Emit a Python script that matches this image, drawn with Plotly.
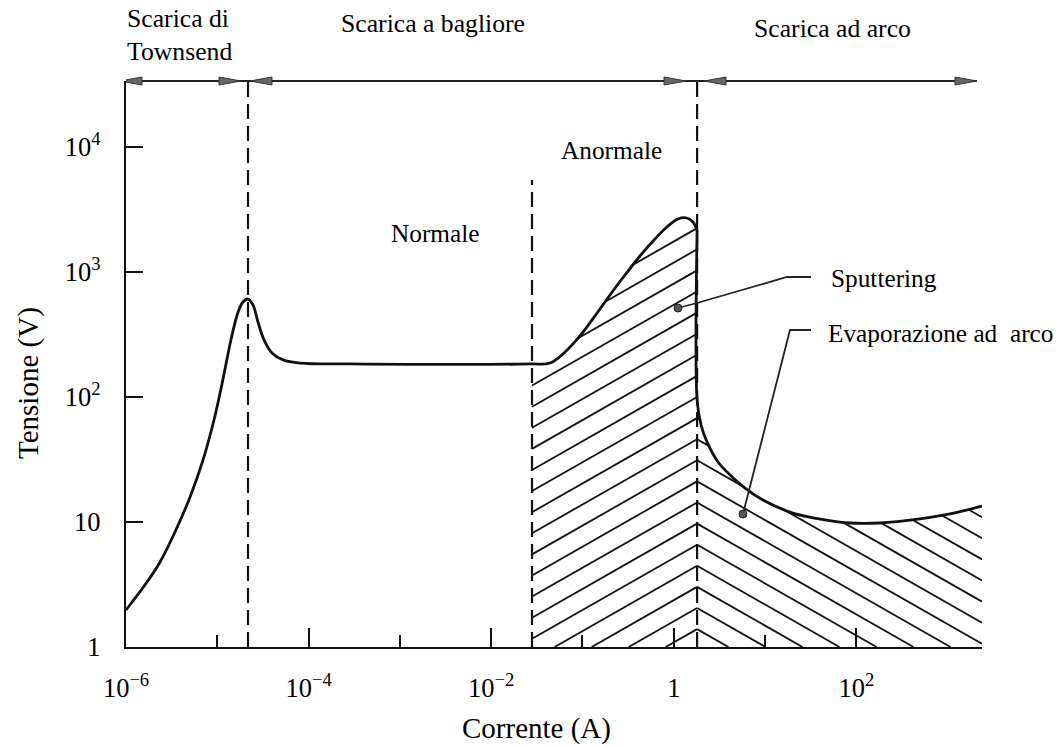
import numpy as np
import plotly.graph_objects as go

# ---------------- data ----------------
# Curva tensione-corrente della scarica nei gas
corrente_townsend = [1.0e-6, 1.61e-6, 2.36e-6, 3.44e-6, 5.02e-6, 6.97e-6, 9.20e-6, 1.15e-5,
                     1.41e-5, 1.69e-5, 1.91e-5, 2.17e-5, 2.46e-5, 2.79e-5, 3.25e-5, 3.97e-5,
                     5.25e-5, 8.05e-5, 2.84e-4, 0.0266]
tensione_townsend = [1.98, 3.13, 4.79, 8.32, 15.8, 31.3, 65.5, 137,
                     286, 479, 575, 608, 545, 398, 286, 225,
                     198, 187, 184, 184]

corrente_anormale = [0.0266, 0.0441, 0.0643, 0.0939, 0.137, 0.200, 0.292, 0.426,
                     0.622, 0.863, 1.11, 1.39, 1.62, 1.80]
tensione_anormale = [184, 187, 229, 308, 445, 655, 946, 1343,
                     1837, 2333, 2655, 2704, 2512, 2168]

corrente_arco = [1.80, 1.80, 1.99, 2.31, 3.05, 4.13, 6.03, 9.49, 18.7, 33.5,
                 85.1, 181, 497, 1059, 2377]
tensione_arco = [2168, 94.6, 59.7, 43.7, 30.2, 23.8, 18.7, 15.0, 12.0, 10.8,
                 9.82, 9.82, 10.6, 11.6, 13.4]

# region boundaries (A)
confine_townsend = 2.17e-5
confine_normale = 0.028
confine_arco = 1.80

x_tickvals = [1e-6, 1e-4, 1e-2, 1, 1e2]
x_ticktext = ["10<sup>\u22126</sup>", "10<sup>\u22124</sup>", "10<sup>\u22122</sup>", "1", "10<sup>2</sup>"]
x_minor = [1e-5, 1e-3, 1e-1, 1e1]
y_tickvals = [1, 10, 100, 1000, 10000]
y_ticktext = ["1", "10", "10<sup>2</sup>", "10<sup>3</sup>", "10<sup>4</sup>"]

# ---------------- layout constants ----------------
FONT = "Liberation Serif, Times New Roman, serif"
W, H = 1063, 747
M = dict(l=126, r=81, t=81, b=100)
X_RANGE = [-6.0, 3.376]
Y_RANGE = [0.0, 4.528]
plot_w = W - M["l"] - M["r"]
plot_h = H - M["t"] - M["b"]
pxdx = plot_w / (X_RANGE[1] - X_RANGE[0])
pxdy = plot_h / (Y_RANGE[1] - Y_RANGE[0])
slope = 0.57 * pxdx / pxdy          # hatch slope in log units
spacing = 21.1 / pxdy               # vertical hatch spacing in log units
lx_ref = np.log10(confine_arco)
c_ref = 2.0


def px_paper(px):
    return (px - M["l"]) / plot_w


def py_paper(py):
    return (H - M["b"] - py) / plot_h


def hatch(xp, yp, lx_lo, lx_hi, sign):
    lxp = np.log10(xp)
    lyp = np.log10(yp)
    grid = np.linspace(lx_lo, lx_hi, 2000)
    upper = np.interp(grid, lxp, lyp)
    xs, ys = [], []
    for k in range(-25, 30):
        c = c_ref + k * spacing
        line = c + sign * slope * (grid - lx_ref)
        valid = (line >= 0) & (line <= upper)
        idx = np.flatnonzero(valid)
        if idx.size < 2:
            continue
        runs = np.split(idx, np.where(np.diff(idx) > 1)[0] + 1)
        for run in runs:
            if len(run) < 2:
                continue
            a, b = run[0], run[-1]
            xs += [10 ** grid[a], 10 ** grid[b], None]
            ys += [10 ** line[a], 10 ** line[b], None]
    return xs, ys


hx1, hy1 = hatch(corrente_anormale, tensione_anormale,
                 np.log10(confine_normale), np.log10(confine_arco), +1)
hx2, hy2 = hatch(corrente_arco[1:], tensione_arco[1:],
                 np.log10(confine_arco), X_RANGE[1], -1)

fig = go.Figure()

# hatching
fig.add_trace(go.Scatter(x=hx1 + hx2, y=hy1 + hy2, mode="lines",
                         line=dict(color="#111", width=1.8),
                         hoverinfo="skip", showlegend=False, cliponaxis=False))

# dashed boundaries
ytop = 10 ** Y_RANGE[1]
for xv, ys in [(confine_townsend, (1, ytop)),
               (confine_normale, (1, 10 ** 3.736)),
               (confine_arco, (1, ytop))]:
    fig.add_trace(go.Scatter(x=[xv, xv], y=list(ys), mode="lines",
                             line=dict(color="#111", width=2.2, dash="15px,7px"),
                             hoverinfo="skip", showlegend=False, cliponaxis=False))

# main curve (glow part, then arc part)
cx1 = corrente_townsend + corrente_anormale[1:]
cy1 = tensione_townsend + tensione_anormale[1:]
fig.add_trace(go.Scatter(x=cx1, y=cy1, mode="lines",
                         line=dict(color="#111", width=2.8, shape="spline", smoothing=1.0),
                         hoverinfo="skip", showlegend=False, cliponaxis=False))
fig.add_trace(go.Scatter(x=corrente_arco, y=tensione_arco, mode="lines",
                         line=dict(color="#111", width=2.8, shape="spline", smoothing=0.9),
                         hoverinfo="skip", showlegend=False, cliponaxis=False))

# leader lines for labels
lead1_x = [10 ** 0.046, 10 ** 0.254, 10 ** 1.240, 10 ** 1.503]
lead1_y = [10 ** 2.712, 10 ** 2.752, 10 ** 2.960, 10 ** 2.960]
lead2_x = [10 ** 0.758, 10 ** 1.273, 10 ** 1.503]
lead2_y = [10 ** 1.064, 10 ** 2.536, 10 ** 2.536]
fig.add_trace(go.Scatter(x=lead1_x + [None] + lead2_x, y=lead1_y + [None] + lead2_y,
                         mode="lines", line=dict(color="#222", width=1.8),
                         hoverinfo="skip", showlegend=False))
fig.add_trace(go.Scatter(x=[lead1_x[0], lead2_x[0]], y=[lead1_y[0], lead2_y[0]],
                         mode="markers", marker=dict(size=8, color="#555",
                                                     line=dict(color="#222", width=1)),
                         hoverinfo="skip", showlegend=False))

# top double-arrow line
shapes = [dict(type="line", xref="x", yref="paper", x0=10 ** -6.066, x1=10 ** 3.321,
               y0=1, y1=1, line=dict(color="#222", width=2))]
right_path = "M0,0 L-22,4 L-22,-4 Z"
left_path = "M0,0 L22,4 L22,-4 Z"
for lx, p in [(-6.066, left_path), (-4.74, right_path), (-4.642, left_path),
              (0.134, right_path), (0.331, left_path), (3.321, right_path)]:
    shapes.append(dict(type="path", xref="x", yref="paper", xsizemode="pixel",
                       ysizemode="pixel", xanchor=10 ** lx, yanchor=1, path=p,
                       fillcolor="#666", line=dict(color="#333", width=1)))

tf = dict(family=FONT, size=25.3, color="black")
tf_top = dict(family=FONT, size=25.7, color="black")
title_font = dict(family=FONT, size=29, color="black")
annotations = [
    dict(text="Scarica di<br>Townsend", x=px_paper(125), y=1.081, xref="paper", yref="paper",
         xanchor="left", yanchor="middle", align="left", showarrow=False, font=tf_top),
    dict(text="Scarica a bagliore", x=px_paper(433), y=1.101, xref="paper", yref="paper",
         xanchor="center", yanchor="middle", showarrow=False, font=tf_top),
    dict(text="Scarica ad arco", x=px_paper(832), y=1.092, xref="paper", yref="paper",
         xanchor="center", yanchor="middle", showarrow=False, font=tf_top),
    dict(text="Anormale", x=-0.677, y=3.976, xref="x", yref="y",
         xanchor="center", yanchor="middle", showarrow=False, font=tf),
    dict(text="Normale", x=-2.605, y=3.312, xref="x", yref="y",
         xanchor="center", yanchor="middle", showarrow=False, font=tf),
    dict(text="Sputtering", x=1.70, y=2.952, xref="x", yref="y",
         xanchor="left", yanchor="middle", showarrow=False, font=tf),
    dict(text="Evaporazione ad\u00a0 arco", x=1.668, y=2.512, xref="x", yref="y",
         xanchor="left", yanchor="middle", showarrow=False, font=tf),
    # axis titles
    dict(text="Corrente (A)", x=px_paper(536), y=py_paper(728), xref="paper", yref="paper",
         xanchor="center", yanchor="middle", showarrow=False, font=title_font),
    dict(text="Tensione (V)", x=px_paper(28), y=py_paper(383), xref="paper", yref="paper",
         xanchor="center", yanchor="middle", textangle=-90, showarrow=False, font=title_font),
]

axis_common = dict(showline=True, linecolor="#111", linewidth=2.2, showgrid=False,
                   zeroline=False, ticks="inside", tickcolor="#111", tickwidth=2,
                   automargin=False,
                   tickfont=dict(family=FONT, size=26.5, color="black"))

fig.update_layout(
    width=W, height=H, margin=M,
    paper_bgcolor="white", plot_bgcolor="white",
    showlegend=False,
    xaxis=dict(type="log", range=X_RANGE, tickmode="array", tickvals=x_tickvals,
               ticktext=x_ticktext, ticklen=19, ticklabelstandoff=16,
               minor=dict(tickmode="array", tickvals=x_minor, ticks="inside",
                          ticklen=12, tickwidth=2, tickcolor="#111", showgrid=False),
               **axis_common),
    yaxis=dict(type="log", range=Y_RANGE, tickmode="array", tickvals=y_tickvals,
               ticktext=y_ticktext, ticklen=17, ticklabelstandoff=18,
               **axis_common),
    shapes=shapes,
    annotations=annotations,
)

fig.write_html("out.html")
